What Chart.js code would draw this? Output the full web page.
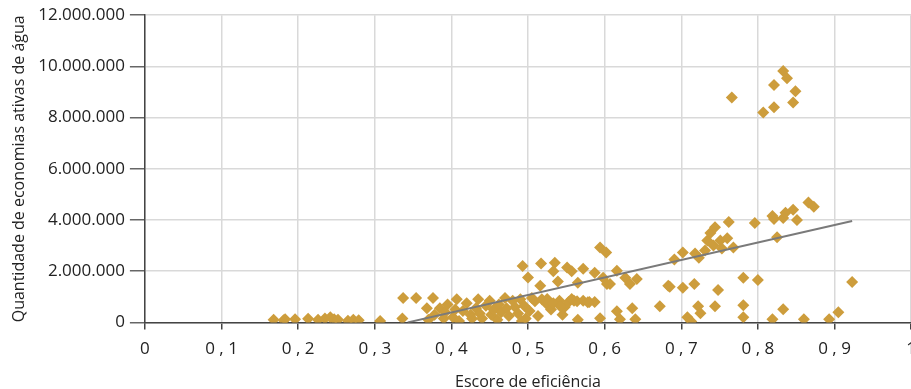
<!DOCTYPE html>
<html>
<head>
    <script src="https://cdn.jsdelivr.net/npm/chart.js"></script>
    <style>
        body {
            margin: 0;
            background: #fff;
            font-family: "Open Sans", sans-serif;
        }
        .wrap {
            width: 911px;
            height: 389px;
            overflow: hidden;
        }
    </style>
</head>
<body>
    <div class="wrap">
        <canvas id="chart" width="926" height="392"></canvas>
    </div>

    <script>
        // escore de eficiencia (x) e quantidade de economias ativas de agua (y)
        let effX = [
            0.168, 0.181, 0.183, 0.196, 0.213, 0.226, 0.235, 0.242, 0.247, 0.252,
            0.265, 0.272, 0.279, 0.307, 0.336,
            0.337, 0.354, 0.368, 0.370, 0.376, 0.378, 0.385, 0.390, 0.392, 0.395,
            0.402, 0.405, 0.407, 0.410, 0.415, 0.420, 0.425, 0.427, 0.432, 0.435,
            0.437, 0.440, 0.445, 0.450, 0.452, 0.455, 0.460, 0.462, 0.465, 0.470,
            0.472, 0.475, 0.480, 0.483, 0.487, 0.490, 0.492, 0.493, 0.495, 0.497,
            0.500, 0.505, 0.509, 0.502, 0.513, 0.516, 0.517, 0.518, 0.525, 0.530,
            0.535, 0.533, 0.539, 0.541, 0.545, 0.548, 0.551, 0.553, 0.557, 0.560,
            0.565, 0.565, 0.572, 0.572, 0.580, 0.587, 0.587, 0.594, 0.594, 0.598,
            0.602, 0.603, 0.616, 0.616, 0.620, 0.627, 0.633, 0.636, 0.640, 0.642,
            0.672, 0.683, 0.525, 0.533, 0.542, 0.557, 0.564, 0.578, 0.607,
            0.691, 0.702, 0.718, 0.723, 0.731, 0.734, 0.738, 0.742, 0.744, 0.751,
            0.753, 0.760, 0.762, 0.768, 0.796, 0.819, 0.821, 0.825, 0.833, 0.836,
            0.846, 0.851, 0.866, 0.873,
            0.685, 0.702, 0.717, 0.748, 0.781, 0.800, 0.923,
            0.722, 0.725, 0.744, 0.781, 0.781, 0.708, 0.713, 0.833, 0.819, 0.860,
            0.893, 0.905,
            0.833, 0.838, 0.821, 0.849, 0.766, 0.846, 0.821, 0.807
        ];
        let econY = [
            100000, 80000, 120000, 120000, 140000, 100000, 150000, 200000, 120000, 100000,
            60000, 100000, 80000, 50000, 150000,
            950000, 950000, 550000, 100000, 950000, 300000, 550000, 150000, 400000, 700000,
            200000, 500000, 900000, 50000, 450000, 750000, 300000, 150000, 550000, 900000,
            350000, 150000, 650000, 850000, 300000, 500000, 100000, 700000, 400000, 950000,
            550000, 250000, 850000, 600000, 350000, 900000, 50000, 2200000, 650000, 150000,
            1750000, 950000, 830000, 450000, 250000, 1430000, 2300000, 900000, 700000, 500000,
            2330000, 2000000, 1600000, 850000, 300000, 600000, 2140000, 800000, 2000000, 850000,
            1550000, 100000, 2100000, 850000, 800000, 1940000, 800000, 2930000, 160000, 1740000,
            2730000, 1500000, 2020000, 440000, 120000, 1740000, 1500000, 550000, 120000, 1700000,
            630000, 1430000, 910000, 750000, 630000, 910000, 830000, 790000, 1500000,
            2460000, 2730000, 2690000, 2530000, 2810000, 3200000, 3490000, 3000000, 3720000, 3200000,
            2890000, 3290000, 3920000, 2930000, 3880000, 4160000, 4040000, 3330000, 4080000, 4280000,
            4400000, 4000000, 4680000, 4520000,
            1390000, 1350000, 1500000, 1270000, 1740000, 1660000, 1580000,
            630000, 360000, 630000, 670000, 200000, 200000, 40000, 510000, 120000, 120000,
            120000, 400000,
            9820000, 9540000, 9270000, 9030000, 8790000, 8590000, 8400000, 8200000
        ];

        // linha de tendencia
        let trendX = [0.343, 0.923];
        let trendY = [0, 3960000];

        let yTicks = [0, 2000000, 4000000, 6000000, 8000000, 10000000, 12000000];

        let points = effX.map((x, i) => ({ x: x, y: econY[i] }));
        let trend = trendX.map((x, i) => ({ x: x, y: trendY[i] }));

        function fmtBR(v) {
            return String(v).replace(/\B(?=(\d{3})+(?!\d))/g, '.');
        }

        let ctx = document.getElementById('chart').getContext('2d');
        new Chart(ctx, {
            type: 'scatter',
            data: {
                datasets: [
                    {
                        type: 'line',
                        data: trend,
                        borderColor: '#7a7a7a',
                        borderWidth: 2,
                        pointRadius: 0,
                        order: 0
                    },
                    {
                        data: points,
                        pointStyle: 'rectRot',
                        pointRadius: 6,
                        pointHoverRadius: 6,
                        backgroundColor: '#cd9d3c',
                        borderWidth: 0,
                        order: 1
                    }
                ]
            },
            options: {
                responsive: false,
                animation: false,
                layout: { padding: { top: 15, left: 10, right: 0, bottom: 0 } },
                plugins: {
                    legend: { display: false },
                    tooltip: { enabled: false }
                },
                scales: {
                    x: {
                        type: 'linear',
                        min: 0,
                        max: 1,
                        ticks: {
                            stepSize: 0.1,
                            color: '#222',
                            font: { family: 'Open Sans', size: 17 },
                            padding: 10,
                            maxRotation: 0,
                            callback: function (v) {
                                let r = Math.round(v * 10);
                                if (r === 0) return '0';
                                if (r === 10) return '1';
                                return '0 , ' + r;
                            }
                        },
                        grid: {
                            color: '#d9d9d9',
                            lineWidth: 1.5,
                            tickColor: '#444',
                            tickLength: 7
                        },
                        border: { color: '#444', width: 1.5 },
                        title: {
                            display: true,
                            text: 'Escore de eficiência',
                            color: '#222',
                            font: { family: 'Open Sans', size: 16 },
                            padding: { top: 3, bottom: 0 }
                        }
                    },
                    y: {
                        min: 0,
                        max: 12000000,
                        afterBuildTicks: function (axis) {
                            axis.ticks = yTicks.map(v => ({ value: v }));
                        },
                        ticks: {
                            color: '#222',
                            font: { family: 'Open Sans', size: 17 },
                            padding: 5,
                            callback: function (v) { return fmtBR(v); }
                        },
                        grid: {
                            color: '#d9d9d9',
                            lineWidth: 1.5,
                            tickColor: '#666',
                            tickLength: 15
                        },
                        border: { color: '#444', width: 1.5 },
                        title: {
                            display: true,
                            text: 'Quantidade de economias ativas de água',
                            color: '#222',
                            font: { family: 'Open Sans', size: 16 },
                            padding: { top: 0, bottom: 4 }
                        }
                    }
                }
            }
        });
    </script>
</body>
</html>
